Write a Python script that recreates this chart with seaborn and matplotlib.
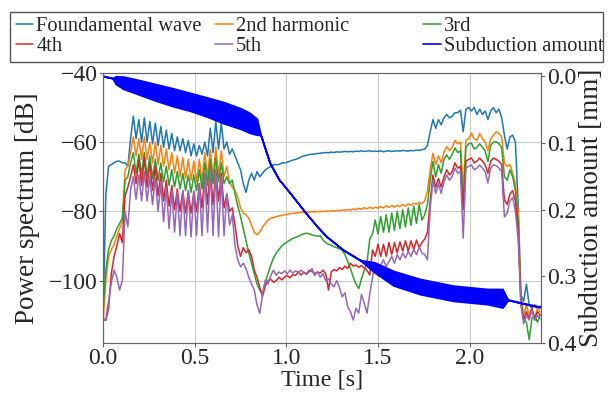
import numpy as np
import matplotlib
matplotlib.use("Agg")
import matplotlib.pyplot as plt
import seaborn as sns
from matplotlib.patches import Rectangle

# time axis of the spectra [s], one sample every 15 ms
time_s = np.round(np.arange(160) * 0.015, 3)

# power spectrum [dB], 10 samples per row
fundamental = [
    -110, -75, -67, -66.5, -66, -65.5, -65.5, -66, -66, -67,
    -59, -52.5, -59, -53.5, -60, -53, -60, -54, -60.5, -54.5,
    -61, -55.5, -61.5, -56.5, -62, -57.5, -62.5, -58.5, -62.5, -59,
    -63, -59.5, -64, -60.5, -64, -61, -63.5, -60, -64, -56,
    -63, -54, -62, -54.5, -62, -60, -63.5, -62, -64, -66,
    -68, -72, -74.5, -71, -69, -71, -68.5, -70, -69, -68,
    -67.5, -67, -66.5, -66.5, -66.5, -66, -66, -65.8, -65.5, -65.2,
    -65, -64.7, -64.3, -64, -63.8, -63.6, -63.5, -63.4, -63.3, -63.2,
    -63.1, -63, -63.1, -62.9, -63, -62.8, -62.9, -62.8, -62.7, -62.8,
    -62.7, -62.8, -62.6, -62.7, -62.5, -62.7, -62.6, -62.5, -62.7, -62.6,
    -62.7, -62.5, -62.8, -62.6, -62.5, -62.7, -62.6, -62.5, -62.6, -62.4,
    -62.5, -62.6, -62.4, -62.5, -62.3, -62.4, -62.2, -62, -61, -57,
    -53.5, -56, -53.5, -55, -53, -52, -53, -52.5, -51.5, -51.5,
    -50.8, -57, -50.5, -50, -51, -50, -52, -50.5, -52, -51,
    -53.5, -51, -50, -51.5, -50.5, -53, -58, -62, -58.5, -58,
    -60, -78, -104, -106, -101, -107, -108, -107, -108, -108,
]
harmonic2 = [
    -112, -100, -93, -91, -89.5, -87, -85, -83, -68, -67,
    -63, -58.5, -64, -59, -65, -58.5, -65, -60, -66, -60,
    -66.5, -61, -67, -62, -68, -63, -69, -64, -70, -64.5,
    -70.5, -65, -71, -65.5, -71.5, -65, -71, -63, -70, -62,
    -70, -61.5, -69.5, -62.5, -70, -67, -71.5, -73, -74, -76,
    -79, -80.5, -81, -82, -84, -86, -86.8, -86, -84.5, -83.5,
    -82.5, -82, -81.8, -81.5, -81.3, -81.2, -81, -80.8, -80.7, -80.6,
    -80.5, -80.4, -80.3, -80.3, -80.2, -80.2, -80.1, -80.2, -80, -80.1,
    -80, -79.9, -80, -79.8, -79.9, -79.7, -79.8, -79.6, -79.7, -79.5,
    -79.6, -79.3, -79.5, -79.1, -79.4, -78.9, -79.3, -78.8, -79.2, -78.8,
    -79.1, -78.6, -79, -78.4, -78.9, -78.3, -78.8, -78.2, -78.6, -78,
    -78.5, -77.8, -78.3, -77.6, -78, -77.4, -77.8, -77, -74, -68,
    -63.2, -66.5, -64, -66, -63, -61.3, -62.5, -61.5, -59.5, -60.5,
    -60, -73.5, -59.5, -59, -57.4, -59, -59.5, -57.5, -59, -60,
    -62.5, -59, -58, -57, -57.5, -58.5, -66, -67, -66.5, -69,
    -72, -80, -104, -110, -107, -110, -108, -111, -108, -109,
]
harmonic3 = [
    -108, -97, -91, -88.5, -87, -85, -83.5, -82, -71, -70,
    -66, -63, -69, -63.5, -69.5, -63, -70, -64, -70.5, -65,
    -71, -66, -71.5, -67, -72.5, -68, -73, -68.5, -73.5, -69,
    -74, -69.5, -74.5, -69.5, -74, -68, -73.5, -66, -72.5, -65,
    -72, -64.5, -71.5, -66, -72, -70, -72, -71, -75, -78.5,
    -81.5, -85, -88.5, -92, -95, -98, -101, -102.7, -103.7, -100.5,
    -98, -95.5, -93.5, -92, -91, -90, -89.3, -88.8, -88.3, -87.8,
    -87.5, -87.2, -86.8, -86.5, -86.3, -86.5, -86.8, -87, -87.2, -87,
    -88.3, -89, -89.5, -89.8, -90.2, -90.5, -90.8, -91.2, -92.5, -94.5,
    -96.5, -99, -101, -102.3, -99.5, -97, -95, -88, -86.5, -82.5,
    -86.5, -81.5, -86, -81, -86, -80.5, -85.5, -80, -85, -79.5,
    -84.5, -79, -84, -78.5, -83.5, -78, -82.5, -81, -78, -71,
    -65.6, -70, -66.5, -69, -65, -63.7, -65, -63.5, -61.7, -63,
    -62.5, -77.6, -61.5, -60.5, -60.3, -62, -61.5, -60.5, -61.5, -62.5,
    -65.6, -61, -60, -59.9, -60.5, -61.5, -70, -71, -68, -70,
    -74, -83, -106.6, -111, -112, -117, -111, -110, -112, -110,
]
harmonic4 = [
    -111, -111.5, -108, -98, -93, -90, -86.4, -89, -75.5, -73,
    -70, -66.5, -72, -65, -72.5, -64.5, -73, -66, -74, -67,
    -75.5, -69, -77, -71, -78.5, -72.5, -79.5, -73.5, -80, -74,
    -80.5, -74, -80.5, -74.5, -80, -72, -79, -69, -78, -67.5,
    -78, -68, -77, -69, -79, -75, -80, -79, -84, -90,
    -93, -90.5, -92, -91, -93, -97, -99, -102, -104.6, -101.5,
    -100, -99.6, -100.5, -100, -99, -99.8, -99, -98.5, -99.2, -98.3,
    -98.5, -97.5, -98.4, -97.6, -98, -97, -97.4, -98, -97.5, -97.8,
    -97, -98, -102.7, -97.5, -96.8, -97.2, -96.2, -96.8, -95.8, -96.5,
    -95, -95.8, -95.5, -96.2, -95.6, -96.4, -97, -98.4, -91.2, -93,
    -89.5, -93, -89.5, -93, -89, -92.5, -89, -92, -88.8, -91.5,
    -88.5, -91.5, -88.5, -91, -88.3, -90.5, -89, -88, -86, -77,
    -69.5, -73, -70.5, -73, -70, -68, -69.5, -68.5, -66, -67.5,
    -67, -79.5, -65.5, -65, -64.6, -66, -65.5, -64.6, -65.5, -66.5,
    -69, -65.5, -64.6, -65, -65.5, -66.5, -76.7, -78, -75, -74,
    -77, -85.4, -106.6, -111.4, -109, -111, -108, -111, -109, -110,
]
harmonic5 = [
    -111.5, -111, -106, -100.5, -97, -99, -102.7, -100, -80, -84.5,
    -73.8, -70, -76.5, -69.5, -77, -68.5, -77, -70, -78, -70.5,
    -80, -72, -83, -73, -85, -74, -86, -74.5, -87, -74,
    -87, -74, -87.4, -74, -87, -72, -87, -69, -86, -67.5,
    -87, -68, -87.3, -70, -87, -75, -84, -81, -90, -94,
    -96, -95, -96.5, -99, -101, -102.7, -107, -109.4, -104, -99.8,
    -101, -98.5, -97, -98.5, -97.5, -98, -97.2, -98, -97, -97.8,
    -97.2, -97.6, -97, -97.6, -98.2, -97.5, -96.5, -98.5, -97.5, -99,
    -98, -100, -99.5, -101, -101.8, -100, -102, -104.7, -103.5, -107.6,
    -109, -111.4, -108, -109.4, -104, -106.5, -109.4, -104, -99, -95,
    -97, -95.5, -94, -96, -94.5, -93, -95, -92.5, -94, -92,
    -93.5, -91.5, -93, -91, -92.5, -90.3, -92, -92.5, -94, -79,
    -71, -74.8, -72, -74.8, -71.5, -69.5, -71, -70, -67.5, -69,
    -68.5, -87.7, -67.5, -67, -66.6, -68, -67.5, -66.6, -67.5, -68.5,
    -71.8, -67.5, -66.6, -66.8, -67.5, -68.5, -81.6, -80.5, -77, -76,
    -80, -88, -106.6, -112.5, -110, -111.4, -108.5, -111.5, -110, -111,
]

# subduction amount [mm]: the trace oscillates fast, so keep its upper/lower envelope
sub_time = [0, 0.05, 0.07, 0.11, 0.2, 0.29, 0.38, 0.475, 0.57, 0.66, 0.75, 0.8,
            0.84, 0.86, 0.91, 0.96, 1.02, 1.1, 1.17, 1.22, 1.31, 1.4, 1.48, 1.585,
            1.73, 1.91, 2.097, 2.18, 2.21, 2.28, 2.37, 2.39]
sub_upper = [0.0, 0.003, 0.0, 0.0005, 0.006, 0.012, 0.018, 0.025, 0.032, 0.039, 0.048, 0.055,
             0.064, 0.088, 0.13, 0.155, 0.175, 0.203, 0.226, 0.2405, 0.2605, 0.2755, 0.279, 0.292,
             0.304, 0.314, 0.319, 0.319, 0.3355, 0.34, 0.3455, 0.3455]
sub_lower = [0.0, 0.003, 0.012, 0.019, 0.028, 0.037, 0.045, 0.052, 0.061, 0.071, 0.079, 0.085,
             0.088, 0.088, 0.13, 0.155, 0.175, 0.203, 0.226, 0.2405, 0.2605, 0.2755, 0.294, 0.314,
             0.327, 0.337, 0.342, 0.347, 0.3355, 0.34, 0.3455, 0.3455]

series = [("Foundamental wave", fundamental), ("2nd harmonic", harmonic2), ("3rd", harmonic3),
          ("4th", harmonic4), ("5th", harmonic5)]
colors = sns.color_palette("tab10", 5)

sns.set_style("whitegrid", {"grid.color": "#cccccc", "axes.edgecolor": "#666666"})
plt.rcParams["font.family"] = ["Liberation Serif", "DejaVu Serif"]

fig = plt.figure(figsize=(6.1, 3.96), dpi=100)
ax = fig.add_axes([0.169, 0.134, 0.718, 0.682])

handles = []
for (name, vals), c in zip(series, colors):
    sns.lineplot(x=time_s, y=vals, ax=ax, color=c, lw=1.1, estimator=None, label=name, legend=False)
    handles.append(ax.lines[-1])

ax.set_xlim(0, 2.39)
ax.set_ylim(-118, -40)
ax.set_xticks([0, 0.5, 1.0, 1.5, 2.0])
ax.set_xticklabels(["0.0", "0.5", "1.0", "1.5", "2.0"])
ax.set_yticks([-40, -60, -80, -100])
ax.set_xlabel("Time [s]", fontsize=17.5, labelpad=0)
ax.set_ylabel("Power spectrum [dB]", fontsize=19.5, labelpad=6)
ax.tick_params(labelsize=17, length=3, width=0.8, color="#666666", pad=1, left=True, bottom=True)

ax2 = ax.twinx()
mid = [(a + b) / 2 for a, b in zip(sub_upper, sub_lower)]
ax2.fill_between(sub_time, sub_upper, sub_lower, color="blue", lw=1.2)
sub_line, = ax2.plot(sub_time, mid, color="blue", lw=1.2, label="Subduction amount")
handles.append(sub_line)
ax2.set_ylim(0.4, -0.005)
ax2.set_yticks([0.0, 0.1, 0.2, 0.3, 0.4])
ax2.set_yticklabels(["0.0", "0.1", "0.2", "0.3", "0.4"])
ax2.grid(False)
ax2.set_ylabel("Subduction amount [mm]", fontsize=19.5, labelpad=2)
ax2.tick_params(labelsize=17, length=3, width=0.8, color="#666666", pad=1, right=True)
for sp in ax2.spines.values():
    sp.set_color("#666666")

# legend: three columns of equal width inside one frame
labels = [h.get_label() for h in handles]
col_x = [0.021, 0.348, 0.689]
for k in range(3):
    fig.legend([handles[k], handles[k + 3]], [labels[k], labels[k + 3]],
               loc="upper left", bbox_to_anchor=(col_x[k], 0.966), frameon=False,
               fontsize=14.8, handlelength=0.85, handletextpad=0.15, labelspacing=0.05,
               borderpad=0.15, borderaxespad=0)
fig.patches.append(Rectangle((0.016, 0.843), 0.972, 0.127, transform=fig.transFigure,
                             fill=False, edgecolor="#555555", lw=1))

fig.savefig("out.png", dpi=100)
